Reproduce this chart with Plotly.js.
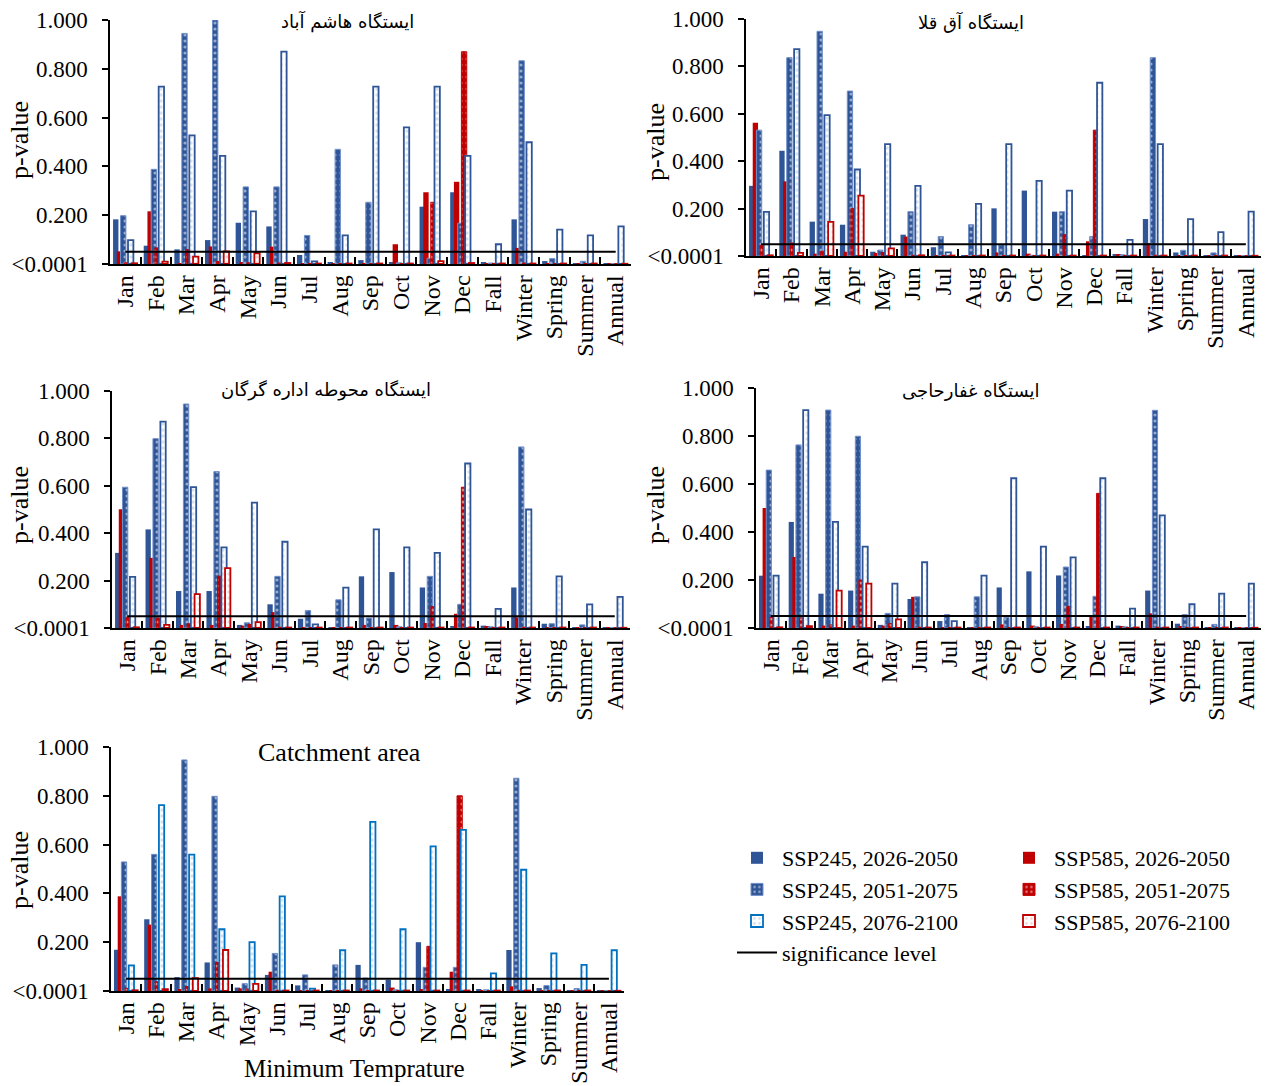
<!DOCTYPE html>
<html>
<head>
<meta charset="utf-8">
<script src="https://cdn.plot.ly/plotly-3.0.1.min.js"></script>
<style>html,body{margin:0;padding:0;background:#fff}#chart{width:1269px;height:1086px}</style>
</head>
<body>
<div id="chart"></div>
<script>
// ---------------- DATA ----------------
const periods = ['Jan','Feb','Mar','Apr','May','Jun','Jul','Aug','Sep','Oct','Nov','Dec','Fall','Winter','Spring','Summer','Annual'];
const seriesNames = ['SSP245, 2026-2050','SSP585, 2026-2050','SSP245, 2051-2075','SSP585, 2051-2075','SSP245, 2076-2100','SSP585, 2076-2100'];
const yTickVals = [0, 0.2, 0.4, 0.6, 0.8, 1.0];
const yTickText = ['<0.0001','0.200','0.400','0.600','0.800','1.000'];
const sigLevel = [0.05,0.05,0.05,0.05,0.05,0.05,0.05,0.05,0.05,0.05,0.05,0.05,0.05,0.05,0.05,0.05,0.05];
const stationTitles = ['ایستگاه هاشم آباد','ایستگاه آق قلا','ایستگاه محوطه اداره گرگان','ایستگاه غفارحاجی','Catchment area'];
const xAxisTitle = 'Minimum Temprature';
const yAxisTitle = 'p-value';

// Hashemabad
const hashem_245_a = [0.183,0.075,0.060,0.098,0.169,0.154,0.037,0.005,0.016,0.005,0.235,0.294,0.007,0.183,0.012,0.004,0.002];
const hashem_585_a = [0.052,0.216,0.003,0.072,0.007,0.071,0.002,0.002,0.003,0.081,0.294,0.337,0.002,0.066,0.002,0.002,0.001];
const hashem_245_b = [0.198,0.388,0.945,1.000,0.316,0.316,0.117,0.470,0.253,0.005,0.023,0.167,0.004,0.833,0.022,0.011,0.002];
const hashem_585_b = [0.005,0.066,0.059,0.010,0.005,0.004,0.002,0.002,0.002,0.002,0.253,0.870,0.002,0.004,0.002,0.002,0.001];
const hashem_245_c = [0.098,0.727,0.527,0.443,0.216,0.870,0.011,0.117,0.727,0.560,0.727,0.443,0.081,0.499,0.141,0.117,0.154];
const hashem_585_c = [0.003,0.010,0.030,0.052,0.044,0.004,0.002,0.002,0.002,0.002,0.012,0.004,0.002,0.002,0.002,0.002,0.001];
// Aq Qala
const aqqala_245_a = [0.296,0.444,0.145,0.132,0.018,0.090,0.037,0.003,0.201,0.276,0.187,0.003,0.007,0.156,0.015,0.003,0.002];
const aqqala_585_a = [0.562,0.315,0.010,0.018,0.013,0.082,0.002,0.002,0.015,0.010,0.010,0.062,0.006,0.055,0.002,0.002,0.001];
const aqqala_245_b = [0.531,0.837,0.948,0.696,0.025,0.187,0.082,0.132,0.048,0.003,0.187,0.082,0.005,0.837,0.024,0.013,0.002];
const aqqala_585_b = [0.045,0.055,0.020,0.201,0.015,0.003,0.002,0.002,0.002,0.002,0.090,0.531,0.002,0.003,0.002,0.002,0.001];
const aqqala_245_c = [0.186,0.873,0.594,0.365,0.472,0.296,0.015,0.220,0.472,0.317,0.276,0.731,0.068,0.472,0.156,0.101,0.187];
const aqqala_585_c = [0.003,0.013,0.144,0.255,0.032,0.003,0.002,0.002,0.002,0.002,0.002,0.002,0.002,0.002,0.002,0.002,0.001];
// Gorgan office
const gorgan_245_a = [0.317,0.416,0.156,0.156,0.013,0.100,0.039,0.003,0.218,0.236,0.171,0.005,0.010,0.171,0.018,0.003,0.002];
const gorgan_585_a = [0.501,0.296,0.013,0.013,0.010,0.067,0.002,0.002,0.013,0.013,0.021,0.060,0.007,0.045,0.002,0.002,0.001];
const gorgan_245_b = [0.594,0.799,0.945,0.660,0.022,0.218,0.074,0.119,0.042,0.005,0.218,0.100,0.005,0.764,0.018,0.013,0.002];
const gorgan_585_b = [0.045,0.042,0.018,0.219,0.015,0.003,0.002,0.002,0.002,0.002,0.090,0.594,0.002,0.003,0.002,0.002,0.001];
const gorgan_245_c = [0.216,0.871,0.594,0.340,0.529,0.364,0.015,0.170,0.416,0.340,0.317,0.694,0.081,0.500,0.218,0.100,0.131];
const gorgan_585_c = [0.003,0.013,0.143,0.253,0.025,0.002,0.002,0.002,0.002,0.002,0.002,0.002,0.002,0.002,0.002,0.002,0.001];
// Ghaffar Haji
const ghaffar_245_a = [0.218,0.442,0.143,0.156,0.013,0.121,0.029,0.003,0.169,0.236,0.219,0.005,0.010,0.156,0.018,0.003,0.002];
const ghaffar_585_a = [0.500,0.296,0.010,0.010,0.010,0.130,0.002,0.002,0.015,0.010,0.017,0.054,0.007,0.061,0.008,0.002,0.001];
const ghaffar_245_b = [0.658,0.763,0.908,0.799,0.061,0.130,0.056,0.130,0.044,0.005,0.254,0.132,0.005,0.907,0.056,0.015,0.002];
const ghaffar_585_b = [0.044,0.042,0.013,0.200,0.018,0.003,0.002,0.002,0.002,0.002,0.090,0.561,0.002,0.003,0.002,0.002,0.001];
const ghaffar_245_c = [0.218,0.908,0.442,0.339,0.185,0.274,0.029,0.218,0.624,0.339,0.294,0.624,0.081,0.469,0.099,0.143,0.185];
const ghaffar_585_c = [0.003,0.008,0.156,0.185,0.036,0.002,0.002,0.002,0.002,0.002,0.002,0.002,0.002,0.002,0.002,0.002,0.001];
// Catchment area
const catch_245_a = [0.169,0.294,0.057,0.117,0.014,0.066,0.023,0.003,0.107,0.046,0.200,0.005,0.005,0.168,0.012,0.003,0.002];
const catch_585_a = [0.388,0.272,0.005,0.011,0.011,0.079,0.002,0.002,0.011,0.014,0.005,0.079,0.003,0.019,0.002,0.002,0.001];
const catch_245_b = [0.529,0.560,0.947,0.798,0.030,0.154,0.066,0.107,0.053,0.005,0.097,0.097,0.005,0.872,0.022,0.010,0.002];
const catch_585_b = [0.011,0.038,0.018,0.117,0.008,0.003,0.002,0.002,0.002,0.002,0.183,0.800,0.002,0.003,0.002,0.002,0.001];
const catch_245_c = [0.105,0.762,0.559,0.253,0.200,0.388,0.010,0.167,0.693,0.253,0.593,0.660,0.072,0.497,0.154,0.107,0.167];
const catch_585_c = [0.003,0.008,0.053,0.168,0.029,0.002,0.002,0.002,0.002,0.002,0.002,0.002,0.002,0.002,0.002,0.002,0.001];

const stationSeries = [
  [hashem_245_a, hashem_585_a, hashem_245_b, hashem_585_b, hashem_245_c, hashem_585_c],
  [aqqala_245_a, aqqala_585_a, aqqala_245_b, aqqala_585_b, aqqala_245_c, aqqala_585_c],
  [gorgan_245_a, gorgan_585_a, gorgan_245_b, gorgan_585_b, gorgan_245_c, gorgan_585_c],
  [ghaffar_245_a, ghaffar_585_a, ghaffar_245_b, ghaffar_585_b, ghaffar_245_c, ghaffar_585_c],
  [catch_245_a, catch_585_a, catch_245_b, catch_585_b, catch_245_c, catch_585_c]
];

// ---------------- LAYOUT / STYLE ----------------
const W = 1269, H = 1086;
const SERIF = 'Liberation Serif, Times New Roman, serif';
const BLUE = '#2F5597', RED = '#C00000', LBLUE = '#0070C0';
// pixel boxes of the five plot areas [x0,x1],[yTop,yBottom]
const boxes = [
  {x:[110,631], y:[20,264]},
  {x:[746,1261], y:[19,256]},
  {x:[112,630], y:[391,628]},
  {x:[756,1261], y:[388,628]},
  {x:[111,624], y:[747,991]}
];
const titlePos = [[347,22],[971,22],[326,390],[971,390],[339,752]];
const yTitlePos = [[19,140],[655,142],[19,505],[655,505],[19,870]];

const barOffsets = [-0.40,-0.278,-0.156,-0.034,0.088,0.21];
const barWidth = 0.175;

function barStyle(k, panel){
  const outlineBlue = panel === 4 ? LBLUE : BLUE;
  switch(k){
    case 0: return {color: BLUE, line:{color: BLUE, width: 0}};
    case 1: return {color: RED, line:{color: RED, width: 0}};
    case 2: return {color: BLUE, line:{color:'#6F8FC9', width:1},
      pattern:{shape:'.', fgcolor:'#ffffff', bgcolor: BLUE, size:6, solidity:0.22, fillmode:'overlay'}};
    case 3: return {color: RED, line:{color: RED, width:1},
      pattern:{shape:'.', fgcolor:'#ffffff', bgcolor: RED, size:6, solidity:0.22, fillmode:'overlay'}};
    case 4: return {color:'#ffffff', line:{color: outlineBlue, width:1.8},
      pattern:{shape:'.', fgcolor:'#A9C4E4', bgcolor:'#ffffff', size:6, solidity:0.25, fillmode:'overlay'}};
    default: return {color:'#ffffff', line:{color: RED, width:1.8},
      pattern:{shape:'.', fgcolor:'#F2A8A8', bgcolor:'#ffffff', size:6, solidity:0.25, fillmode:'overlay'}};
  }
}

const traces = [];
const layout = {
  width: W, height: H,
  margin:{l:0,r:0,t:0,b:0},
  paper_bgcolor:'#ffffff', plot_bgcolor:'rgba(0,0,0,0)',
  barmode:'overlay',
  font:{family: SERIF, color:'#000', size:22},
  annotations: [],
  legend: {x: 732/W, y: 1-837/H, xanchor:'left', yanchor:'top', bgcolor:'rgba(0,0,0,0)',
           font:{family: SERIF, size:22, color:'#000'}, tracegroupgap:0, itemwidth:40},
  legend2: {x: 1004/W, y: 1-837/H, xanchor:'left', yanchor:'top', bgcolor:'rgba(0,0,0,0)',
           font:{family: SERIF, size:22, color:'#000'}, tracegroupgap:0, itemwidth:40}
};

stationSeries.forEach((series, p) => {
  const sfx = p === 0 ? '' : String(p+1);
  const xa = 'x' + sfx, ya = 'y' + sfx;
  const showLeg = (p === 4);
  series.forEach((vals, k) => {
    traces.push({
      type:'bar', x: periods, y: vals, xaxis: xa, yaxis: ya,
      name: seriesNames[k], legendgroup: seriesNames[k],
      legend: (k % 2 === 0) ? 'legend' : 'legend2',
      showlegend: showLeg,
      offset: barOffsets[k], width: barWidth,
      marker: barStyle(k, p),
      hovertemplate: '%{x}: %{y:.3f}<extra>' + seriesNames[k] + '</extra>'
    });
  });
  traces.push({
    type:'scatter', mode:'lines', x: periods, y: sigLevel, xaxis: xa, yaxis: ya,
    name:'significance level', legendgroup:'sig', legend:'legend', showlegend: showLeg,
    line:{color:'#000', width:2}, hoverinfo:'skip'
  });

  const b = boxes[p];
  layout['xaxis' + sfx] = {
    domain:[b.x[0]/W, b.x[1]/W], anchor: ya,
    type:'category', categoryorder:'array', categoryarray: periods, range:[-0.5, periods.length-0.5],
    showline:true, linecolor:'#000', linewidth:1.5,
    ticks:'inside', tickson:'boundaries', ticklen:7, tickwidth:2, tickcolor:'#000',
    tickangle:-90, tickfont:{family: SERIF, size:24, color:'#000'},
    showgrid:false, zeroline:false, fixedrange:true
  };
  layout['yaxis' + sfx] = {
    domain:[1 - b.y[1]/H, 1 - b.y[0]/H], anchor: xa,
    range:[0,1], tickmode:'array', tickvals: yTickVals, ticktext: yTickText,
    showline:true, linecolor:'#000', linewidth:1.5,
    ticks:'outside', ticklen:6, tickwidth:1.5, tickcolor:'#000', ticklabelstandoff: 10,
    tickfont:{family: SERIF, size:23, color:'#000'},
    showgrid:false, zeroline:false, fixedrange:true
  };
  const tp = titlePos[p];
  layout.annotations.push({
    text: stationTitles[p], xref:'paper', yref:'paper', x: tp[0]/W, y: 1 - tp[1]/H,
    xanchor:'center', yanchor:'middle', showarrow:false,
    font: p === 4 ? {family: SERIF, size:26, color:'#000'} : {family:'DejaVu Sans', size:18, color:'#000'}
  });
  const yp = yTitlePos[p];
  layout.annotations.push({
    text: yAxisTitle, xref:'paper', yref:'paper', x: yp[0]/W, y: 1 - yp[1]/H,
    xanchor:'center', yanchor:'middle', textangle:-90, showarrow:false,
    font:{family: SERIF, size:26, color:'#000'}
  });
});

layout.annotations.push({
  text: xAxisTitle, xref:'paper', yref:'paper', x: 354/W, y: 1 - 1068/H,
  xanchor:'center', yanchor:'middle', showarrow:false,
  font:{family: SERIF, size:25, color:'#000'}
});

Plotly.newPlot('chart', traces, layout, {displayModeBar:false, staticPlot:false});
</script>
</body>
</html>
